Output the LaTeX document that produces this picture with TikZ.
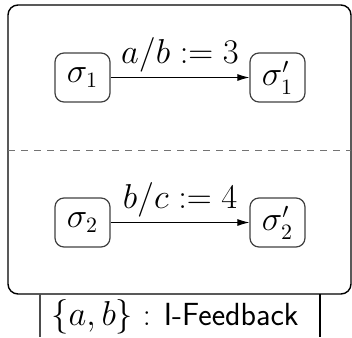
\documentclass[tikz,border=0pt]{standalone}
\usetikzlibrary{arrows.meta}
\begin{document}
\begin{tikzpicture}[x=0.5pt,y=-0.5pt,font=\fontsize{16}{19}\selectfont,
  statebox/.style={draw=black!75,line width=0.6pt,rounded corners=4.5pt,
    minimum width=27.5pt,minimum height=24.5pt,inner sep=0pt},
  arr/.style={-{Latex[length=6pt,width=3.5pt]},line width=0.5pt},
  lbl/.style={above,inner sep=2.5pt}]
\useasboundingbox (0,0) rectangle (352,337);
% outer frame
\draw[line width=0.7pt,rounded corners=5pt] (8,5) rectangle (351,294);
\draw[black!55,line width=0.9pt,dash pattern=on 3.5pt off 3pt] (8,150.5) -- (351,150.5);
% states
\node[statebox] (s1)  at (82.5,77.5)  {$\sigma_1$};
\node[statebox] (s1p) at (277.5,77.5) {$\sigma_1'$};
\node[statebox] (s2)  at (82.5,222.5) {$\sigma_2$};
\node[statebox] (s2p) at (277.5,222.5){$\sigma_2'$};
\draw[arr] (s1) -- node[lbl] {$a/b := 3$} (s1p);
\draw[arr] (s2) -- node[lbl] {$b/c := 4$} (s2p);
% bottom label
\coordinate (bl1) at (40,294); \coordinate (bl2) at (40,337);
\coordinate (br1) at (320,294); \coordinate (br2) at (320,337);
\draw[black!70,line width=0.6pt] (bl1) -- (bl2);
\draw[line width=0.6pt] (br1) -- (br2);
\node (lab) at (175,317) {$\{a,b\}$ : \textsf{I-Feedback}};
\end{tikzpicture}
\end{document}
